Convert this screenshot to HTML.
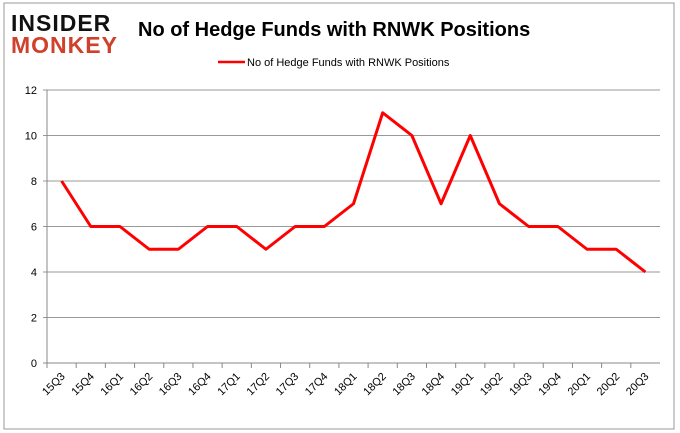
<!DOCTYPE html>
<html><head><meta charset="utf-8"><style>
body{margin:0;background:#fff;}
#wrap{position:relative;width:680px;height:433px;overflow:hidden;font-family:"Liberation Sans",sans-serif;}
</style></head><body>
<div id="wrap">
<svg id="svg" width="680" height="433" xmlns="http://www.w3.org/2000/svg">
<rect x="4" y="3" width="670" height="426" fill="#fff" stroke="#999" stroke-width="1"/>
<g>
<text x="11" y="31" font-size="23" font-weight="bold" fill="#111" letter-spacing="1">INSIDER</text>
<text x="11" y="53" font-size="23" font-weight="bold" fill="#d0402a" letter-spacing="1">MONKEY</text>
</g>
<text x="138" y="36" font-size="20" font-weight="bold" fill="#000">No of Hedge Funds with RNWK Positions</text>
<line x1="218" y1="62" x2="245" y2="62" stroke="#f00" stroke-width="2.5"/>
<text x="247" y="66" font-size="11" fill="#000">No of Hedge Funds with RNWK Positions</text>
<g id="grid"></g><g id="axes"></g><g id="series"></g>
</svg>
</div>
<script>
const categories=["15Q3","15Q4","16Q1","16Q2","16Q3","16Q4","17Q1","17Q2","17Q3","17Q4","18Q1","18Q2","18Q3","18Q4","19Q1","19Q2","19Q3","19Q4","20Q1","20Q2","20Q3"];
const values=[8,6,6,5,5,6,6,5,6,6,7,11,10,7,10,7,6,6,5,5,4];
const yTicks=[0,2,4,6,8,10,12];
const NS="http://www.w3.org/2000/svg";
const x0=47,x1=660,yTop=90,yBot=363,yMax=12;
const step=(x1-x0)/categories.length;
function xs(i){return x0+step*(i+0.5);}
function ys(v){return yBot-(v/yMax)*(yBot-yTop);}
function mk(t,a,p){const e=document.createElementNS(NS,t);for(const k in a)e.setAttribute(k,a[k]);p.appendChild(e);return e;}
const grid=document.getElementById('grid'),axes=document.getElementById('axes'),series=document.getElementById('series');
yTicks.forEach(v=>{
 const l=mk('line',{x1:x0-4,x2:x1,y1:ys(v),y2:ys(v),stroke:v===0?'#888':'#999','stroke-width':1},grid);
 
 
 const t=mk('text',{x:x0-10,y:ys(v)+4,'font-size':11,'text-anchor':'end',fill:'#000'},axes);
 t.textContent=v;
 
 
});
const ya=mk('line',{x1:x0,x2:x0,y1:yTop,y2:yBot,stroke:'#888'},axes);


categories.forEach((c,i)=>{
 const tk=mk('line',{x1:x0+step*i,x2:x0+step*i,y1:yBot,y2:yBot+5,stroke:'#888'},axes);
 
 
 const x=xs(i),y=yBot+14;
 const t=mk('text',{x:x+4,y:y,'font-size':11,'text-anchor':'end',fill:'#000',transform:`rotate(-45 ${x+4} ${y})`},axes);
 t.textContent=c;
 
 
});
const pl=mk('polyline',{points:values.map((v,i)=>xs(i)+','+ys(v)).join(' '),fill:'none',stroke:'#f00','stroke-width':3,'stroke-linejoin':'round'},series);


</script>
</body></html>
